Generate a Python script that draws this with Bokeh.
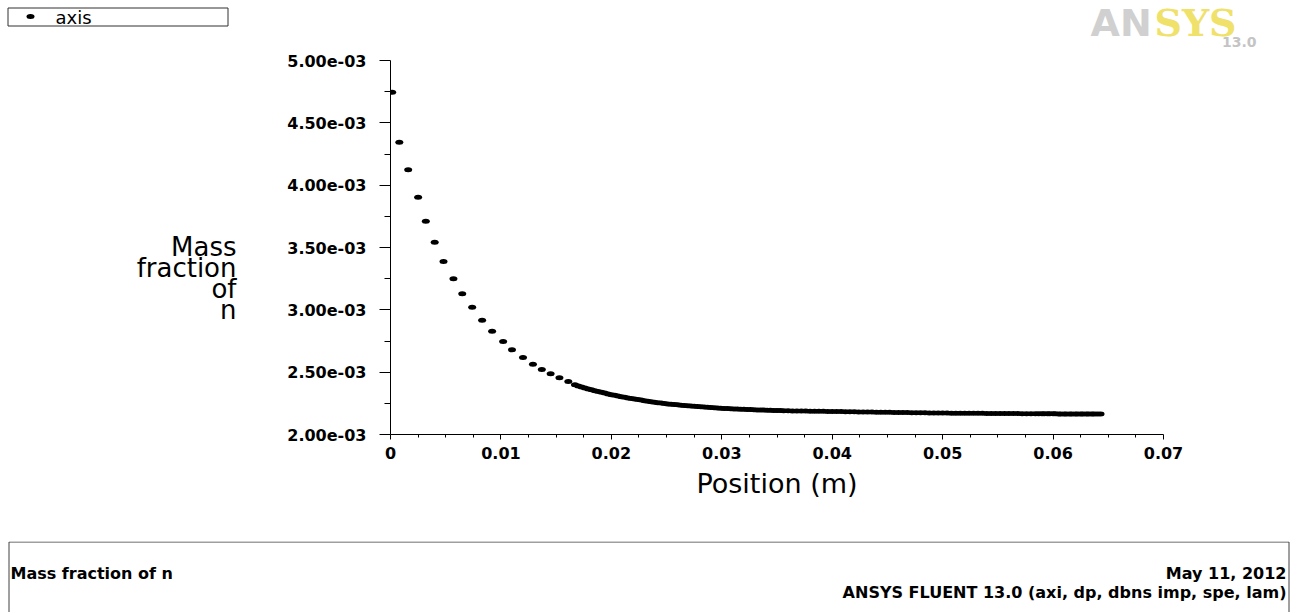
from bokeh.plotting import figure
from bokeh.models import ColumnDataSource, Range1d, FixedTicker, Label
from bokeh.layouts import column, row
from bokeh.embed import file_html
from bokeh.resources import INLINE

# ---------------- data ----------------
position_m = [
    0.00015, 0.0008, 0.0016, 0.0025, 0.0032, 0.0040, 0.0048, 0.0057, 0.0065, 0.0074,
    0.0083, 0.0092, 0.0102, 0.0110, 0.0120, 0.0129, 0.0137, 0.0145, 0.0153, 0.0161,
    0.0167,
    0.0170, 0.0173, 0.0176, 0.0179, 0.0182, 0.0185, 0.0188, 0.0191, 0.0194, 0.0197,
    0.0200, 0.0203, 0.0206, 0.0209, 0.0212, 0.0215, 0.0218, 0.0221, 0.0224, 0.0227,
    0.0230, 0.0233, 0.0236, 0.0239, 0.0242, 0.0245, 0.0248, 0.0251, 0.0254, 0.0257,
    0.0260, 0.0263, 0.0266, 0.0269, 0.0272, 0.0275, 0.0278, 0.0281, 0.0284, 0.0287,
    0.0290, 0.0293, 0.0296, 0.0299, 0.0302, 0.0305, 0.0308, 0.0311, 0.0314, 0.0317,
    0.0320, 0.0323, 0.0326, 0.0329, 0.0332, 0.0335, 0.0338, 0.0341, 0.0344, 0.0347,
    0.0350, 0.0353, 0.0356,
    0.0360, 0.0364, 0.0368, 0.0372, 0.0376, 0.0380, 0.0384, 0.0388, 0.0392, 0.0396,
    0.0400, 0.0404, 0.0408, 0.0412, 0.0416, 0.0420, 0.0424, 0.0428, 0.0432, 0.0436,
    0.0440, 0.0444, 0.0448, 0.0452, 0.0456, 0.0460, 0.0464, 0.0468, 0.0472, 0.0476,
    0.0480, 0.0484, 0.0488, 0.0492, 0.0496, 0.0500, 0.0504, 0.0508, 0.0512, 0.0516,
    0.0520, 0.0524, 0.0528, 0.0532, 0.0536, 0.0540, 0.0544, 0.0548, 0.0552, 0.0556,
    0.0560, 0.0564, 0.0568, 0.0572, 0.0576, 0.0580, 0.0584,
    0.0587, 0.0590, 0.0592, 0.0595, 0.0597, 0.0600, 0.0602, 0.0605, 0.0607, 0.0610,
    0.0612, 0.0615, 0.0617, 0.0620, 0.0622, 0.0625, 0.0627, 0.0630, 0.0632, 0.0635,
    0.0637, 0.0640, 0.0643,
]

mass_fraction_n = [
    0.004746, 0.004345, 0.004123, 0.003904, 0.003711, 0.003542, 0.003388, 0.003249, 0.003129, 0.003021,
    0.002917, 0.002829, 0.002746, 0.002679, 0.002618, 0.002564, 0.002521, 0.002487, 0.002455, 0.002425,
    0.002399,
    0.002390, 0.002381, 0.002373, 0.002365, 0.002358, 0.002351, 0.002345, 0.002338, 0.002332, 0.002325,
    0.002319, 0.002314, 0.002308, 0.002303, 0.002298, 0.002293, 0.002289, 0.002284, 0.002280, 0.002276,
    0.002271, 0.002267, 0.002263, 0.002259, 0.002255, 0.002252, 0.002248, 0.002245, 0.002242, 0.002240,
    0.002238, 0.002235, 0.002233, 0.002231, 0.002228, 0.002226, 0.002224, 0.002222, 0.002220, 0.002218,
    0.002216, 0.002215, 0.002213, 0.002211, 0.002209, 0.002208, 0.002207, 0.002205, 0.002204, 0.002203,
    0.002202, 0.002201, 0.002200, 0.002199, 0.002197, 0.002196, 0.002196, 0.002195, 0.002194, 0.002193,
    0.002193, 0.002192, 0.002191,
    0.002190, 0.002189, 0.002189, 0.002188, 0.002188, 0.002187, 0.002187, 0.002186, 0.002186, 0.002185,
    0.002185, 0.002184, 0.002184, 0.002183, 0.002182, 0.002182, 0.002181, 0.002181, 0.002180, 0.002180,
    0.002179, 0.002179, 0.002178, 0.002178, 0.002177, 0.002177, 0.002176, 0.002176, 0.002175, 0.002175,
    0.002174, 0.002174, 0.002173, 0.002173, 0.002172, 0.002172, 0.002172, 0.002171, 0.002171, 0.002171,
    0.002171, 0.002170, 0.002170, 0.002170, 0.002170, 0.002169, 0.002169, 0.002169, 0.002169, 0.002168,
    0.002168, 0.002168, 0.002168, 0.002167, 0.002167, 0.002167, 0.002167,
    0.002166, 0.002166, 0.002166, 0.002166, 0.002166, 0.002166, 0.002166, 0.002165, 0.002165, 0.002165,
    0.002165, 0.002165, 0.002165, 0.002165, 0.002165, 0.002164, 0.002164, 0.002164, 0.002164, 0.002164,
    0.002164, 0.002164, 0.002164,
]

series_name = "axis"

x_ticks = [0.0, 0.01, 0.02, 0.03, 0.04, 0.05, 0.06, 0.07]
x_tick_labels = ["0", "0.01", "0.02", "0.03", "0.04", "0.05", "0.06", "0.07"]
y_ticks = [0.002, 0.0025, 0.003, 0.0035, 0.004, 0.0045, 0.005]
y_tick_labels = ["2.00e-03", "2.50e-03", "3.00e-03", "3.50e-03",
                 "4.00e-03", "4.50e-03", "5.00e-03"]

x_axis_title = "Position (m)"
y_axis_title_lines = ["Mass", "fraction", "of", "n"]
footer_left = "Mass fraction of n"
footer_date = "May 11, 2012"
footer_solver = "ANSYS FLUENT 13.0 (axi, dp, dbns imp, spe, lam)"
logo_word_a = "AN"
logo_word_b = "SYS"
logo_version = "13.0"

# ---------------- layout (pixels on the 1294x612 page) ----------------
W, H = 1294, 612
TOP_H = 50            # strip with legend and logo
LEFT_W = 270          # column holding the horizontal y title
FOOT_Y = 541          # top of footer box
FL, FR, FT, FB = 390, 1163, 60, 434   # plot frame on the page
MAIN_H = FOOT_Y - TOP_H

x_minor = [t + d for t in x_ticks[:-1] for d in (0.0025, 0.005, 0.0075)]
y_minor = [t + 0.00025 for t in y_ticks[:-1]]


def blank(w, h, x0, y0, top=0, bottom=0):
    """Decoration figure whose data coordinates are page pixels (y downward)."""
    f = figure(width=w, height=h,
               x_range=Range1d(x0, x0 + w),
               y_range=Range1d(y0 + h - bottom, y0 + top),
               output_backend="svg", toolbar_location=None,
               x_axis_type=None, y_axis_type=None,
               min_border_left=0, min_border_right=0,
               min_border_top=top, min_border_bottom=bottom)
    f.outline_line_color = None
    f.background_fill_color = "white"
    f.border_fill_color = "white"
    return f


def label(f, x, y, text, font="DejaVu Sans", size="14px", style="normal",
          color="black", align="left"):
    # y is the vertical centre of the text on the page
    f.add_layout(Label(x=x, y=y, text=text, text_font=font, text_font_size=size,
                       text_font_style=style, text_color=color,
                       text_align=align, text_baseline="middle"))


# ---- main plot ----
p = figure(width=W - LEFT_W, height=MAIN_H, output_backend="svg",
           toolbar_location=None,
           x_range=Range1d(0, 0.07), y_range=Range1d(0.002, 0.005),
           min_border_left=FL - LEFT_W, min_border_right=W - FR,
           min_border_top=FT - TOP_H, min_border_bottom=FOOT_Y - FB)
p.grid.visible = False
p.outline_line_color = None
p.background_fill_color = "white"
p.border_fill_color = "white"

src = ColumnDataSource(data=dict(x=position_m, y=mass_fraction_n))
p.ellipse(x="x", y="y", width=8, height=5, width_units="screen",
          height_units="screen", source=src, fill_color="black",
          line_color=None)

xa = p.xaxis[0]
xa.ticker = FixedTicker(ticks=x_ticks, minor_ticks=x_minor)
xa.major_label_overrides = dict(zip(x_ticks, x_tick_labels))
xa.axis_line_color = "black"
xa.major_tick_line_color = "black"
xa.minor_tick_line_color = "black"
xa.major_tick_in = 0
xa.major_tick_out = 5
xa.minor_tick_in = 0
xa.minor_tick_out = 3
xa.major_label_text_font = "DejaVu Sans"
xa.major_label_text_font_style = "bold"
xa.major_label_text_font_size = "16px"
xa.major_label_text_color = "black"
xa.major_label_standoff = 7
xa.axis_label = x_axis_title
xa.axis_label_text_font = "DejaVu Sans"
xa.axis_label_text_font_style = "normal"
xa.axis_label_text_font_size = "27px"
xa.axis_label_text_color = "black"
xa.axis_label_standoff = 6

ya = p.yaxis[0]
ya.ticker = FixedTicker(ticks=y_ticks, minor_ticks=y_minor)
ya.major_label_overrides = dict(zip(y_ticks, y_tick_labels))
ya.axis_line_color = "black"
ya.major_tick_line_color = "black"
ya.minor_tick_line_color = "black"
ya.major_tick_in = 0
ya.major_tick_out = 11
ya.minor_tick_in = 0
ya.minor_tick_out = 6
ya.major_label_text_font = "DejaVu Sans"
ya.major_label_text_font_style = "bold"
ya.major_label_text_font_size = "16px"
ya.major_label_text_color = "black"
ya.major_label_standoff = 13

# ---- top strip: legend box (left) and logo (right) ----
top = blank(W, TOP_H, 0, 0)
top.quad(left=[7.5], right=[227.5], top=[7.5], bottom=[25.5],
         fill_color="white", line_color="#303030", line_width=1)
top.ellipse(x=[30], y=[16], width=8, height=5, width_units="screen",
            height_units="screen", fill_color="black", line_color=None)
label(top, 55, 16.5, series_name, size="18px")
label(top, 1090, 22, logo_word_a, font="DejaVu Sans", size="38px",
      style="bold", color="#d0d0d0")
label(top, 1154, 22, logo_word_b, font="DejaVu Serif", size="38px",
      style="bold", color="#efe16a")
label(top, 1256, 41, logo_version, font="DejaVu Sans", size="14px",
      style="bold", color="#c4c4c4", align="right")

# ---- y-axis title (left of the axis), frame matched to the main plot ----
yl = blank(LEFT_W, MAIN_H, 0, TOP_H, top=FT - TOP_H, bottom=FOOT_Y - FB)
for line, centre in zip(y_axis_title_lines, [246, 267, 288, 309]):
    label(yl, 236, centre, line, size="26px", align="right")

# ---- footer ----
ft = blank(W, H - FOOT_Y, 0, FOOT_Y)
ft.quad(left=[8.5], right=[1288.5], top=[FOOT_Y + 0.5], bottom=[H + 20],
        fill_color=None, line_color="#404040", line_width=1)
label(ft, 10, 573, footer_left, size="16px", style="bold")
label(ft, 1286, 573, footer_date, size="16px", style="bold", align="right")
label(ft, 1286, 592, footer_solver, size="16px", style="bold", align="right")

layout = column(top, row(yl, p, spacing=0), ft, spacing=0)

open("out.html", "w").write(file_html(layout, INLINE))
